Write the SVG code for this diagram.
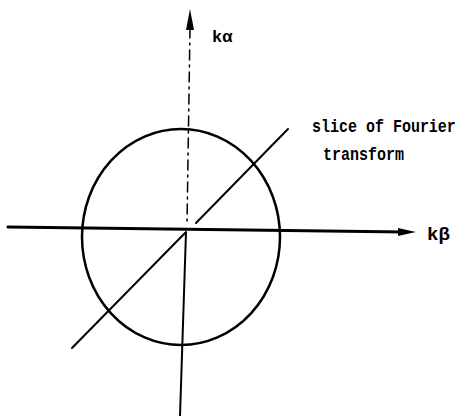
<svg xmlns="http://www.w3.org/2000/svg" width="471" height="416" viewBox="0 0 471 416">
<style>
.ln{stroke:#000;fill:none;stroke-linecap:round}
.t{font-family:"Liberation Mono","DejaVu Sans Mono",monospace;font-weight:bold;fill:#000}
</style>
<rect width="471" height="416" fill="#fff"/>
<g id="circle"><ellipse class="ln" cx="181" cy="237" rx="99" ry="108" stroke-width="2.5"/></g>
<g id="connectors">
<line class="ln" x1="8" y1="227" x2="405" y2="232" stroke-width="3"/>
<polygon points="398,228 416,232 398,236" fill="#000"/>
<line class="ln" x1="190" y1="28" x2="187" y2="225" stroke-width="1.5" stroke-dasharray="10,5,2,5"/>
<line class="ln" x1="186" y1="232" x2="180" y2="416" stroke-width="2"/>
<polygon points="186,30 190,9 194,30" fill="#000"/>
<line class="ln" x1="72" y1="348" x2="185" y2="233" stroke-width="2"/>
<line class="ln" x1="196" y1="223" x2="288" y2="129" stroke-width="2"/>
</g>
<g id="labels">
<text class="t" x="212" y="42" font-size="17">kα</text>
<text class="t" x="427" y="240" font-size="19">kβ</text>
<text class="t" transform="translate(312,132) scale(1,1.2)" font-size="15">slice of Fourier</text>
<text class="t" transform="translate(323,160) scale(1,1.2)" font-size="15">transform</text>
</g>
</svg>
